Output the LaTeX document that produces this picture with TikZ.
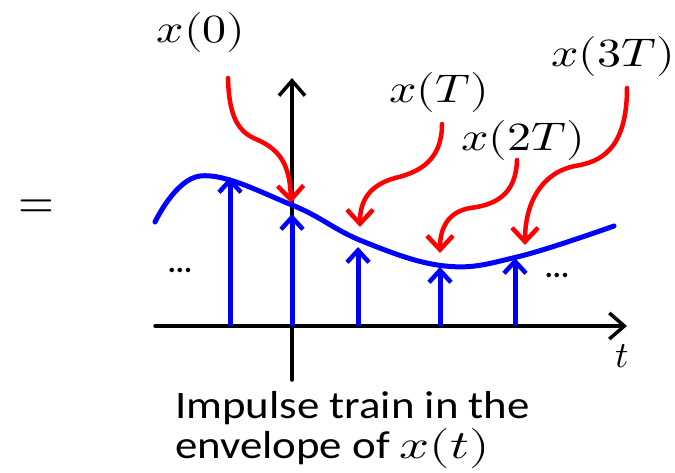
\documentclass[tikz,border=0pt]{standalone}
\usepackage{fontspec}
\usepackage{unicode-math}
\setmathfont{Latin Modern Math}
\newfontfamily\carl{Carlito}
\usetikzlibrary{arrows.meta}
\begin{document}
\begin{tikzpicture}[x=1pt,y=-1pt,
  axisline/.style={line width=3.5pt,line cap=round,
    -{Straight Barb[length=15pt,width=26pt,line width=3.5pt]}},
  impulse/.style={blue,line width=5pt,
    -{Straight Barb[length=12pt,width=22pt,line width=4.5pt]}},
  envelope/.style={blue,line width=5pt,line cap=round},
  pointer/.style={red,line width=4.5pt,line cap=round,
    -{Straight Barb[length=14pt,width=26pt,line width=4.5pt]}},
  mlabel/.style={inner sep=0pt,font=\fontsize{40}{44}\selectfont},
  caption/.style={inner sep=0pt,anchor=base west,font=\carl\fontsize{39}{44}\selectfont},
  dotsnode/.style={inner sep=0pt,anchor=base,font=\carl\bfseries\fontsize{30}{34}\selectfont}]
\useasboundingbox (0,0) rectangle (675,472);

% equals sign
\node[inner sep=0pt,font=\fontsize{46}{50}\selectfont] (eq) at (36,209) {\scalebox{1}[1.1]{$=$}};

% axes
\coordinate (xa0) at (155,326);
\coordinate (xa1) at (627,326);
\coordinate (ya0) at (292,380);
\coordinate (ya1) at (292,78);
\draw[axisline] (xa0) -- (xa1);
\draw[axisline] (ya0) -- (ya1);
\node[mlabel,font=\fontsize{37}{40}\selectfont] (tl) at (622,356) {$t$};

% envelope
\draw[envelope] plot[smooth,tension=0.65] coordinates
  {(155,222) (200,176) (292,205) (362,241) (445,266) (517,257) (614,226)};

% points on the envelope
\coordinate (p0) at (291,203);
\coordinate (pT) at (360,227);
\coordinate (p2) at (440,253);
\coordinate (p3) at (525,245);

% impulses
\foreach \n/\x/\y in {a/230/177,b/292/214,c/358/247,d/440/267,e/515/258}{
  \coordinate (b\n) at (\x,326);
  \coordinate (t\n) at (\x,\y);
  \draw[impulse] (b\n) -- (t\n);
}

% dots
\node[dotsnode] (dl) at (180,272) {...};
\node[dotsnode] (dr) at (557,277) {...};

% labels
\node[mlabel] (l0) at (201,32) {\scalebox{1.2}[1]{$x(0)$}};
\node[mlabel] (lT) at (439,92) {\scalebox{1.2}[1]{$x(T)$}};
\node[mlabel] (l2) at (523,140) {\scalebox{1.2}[1]{$x(2T)$}};
\node[mlabel] (l3) at (613,56) {\scalebox{1.2}[1]{$x(3T)$}};

% red pointers
\coordinate (s0) at (228,78);
\coordinate (sT) at (442,124);
\coordinate (s2) at (517,160);
\coordinate (s3) at (627,88);
\draw[pointer] (s0) .. controls (229,120) and (240,133) .. (258,140)
  .. controls (280,150) and (290,165) .. (p0);
\draw[pointer] (sT) .. controls (442,160) and (420,172) .. (395,178)
  .. controls (370,185) and (360,200) .. (pT);
\draw[pointer] (s2) .. controls (516,195) and (495,205) .. (470,208)
  .. controls (448,212) and (440,228) .. (p2);
\draw[pointer] (s3) .. controls (627,150) and (600,162) .. (575,166)
  .. controls (540,173) and (525,205) .. (p3);

% caption
\node[caption] (c1) at (175,418) {\scalebox{1.15}[1]{Impulse train in the}};
\node[caption] (c2) at (175,458) {\scalebox{1.15}[1]{envelope of \fontsize{40}{44}\selectfont\scalebox{1.14}[1]{$x(t)$}}};
\end{tikzpicture}
\end{document}
